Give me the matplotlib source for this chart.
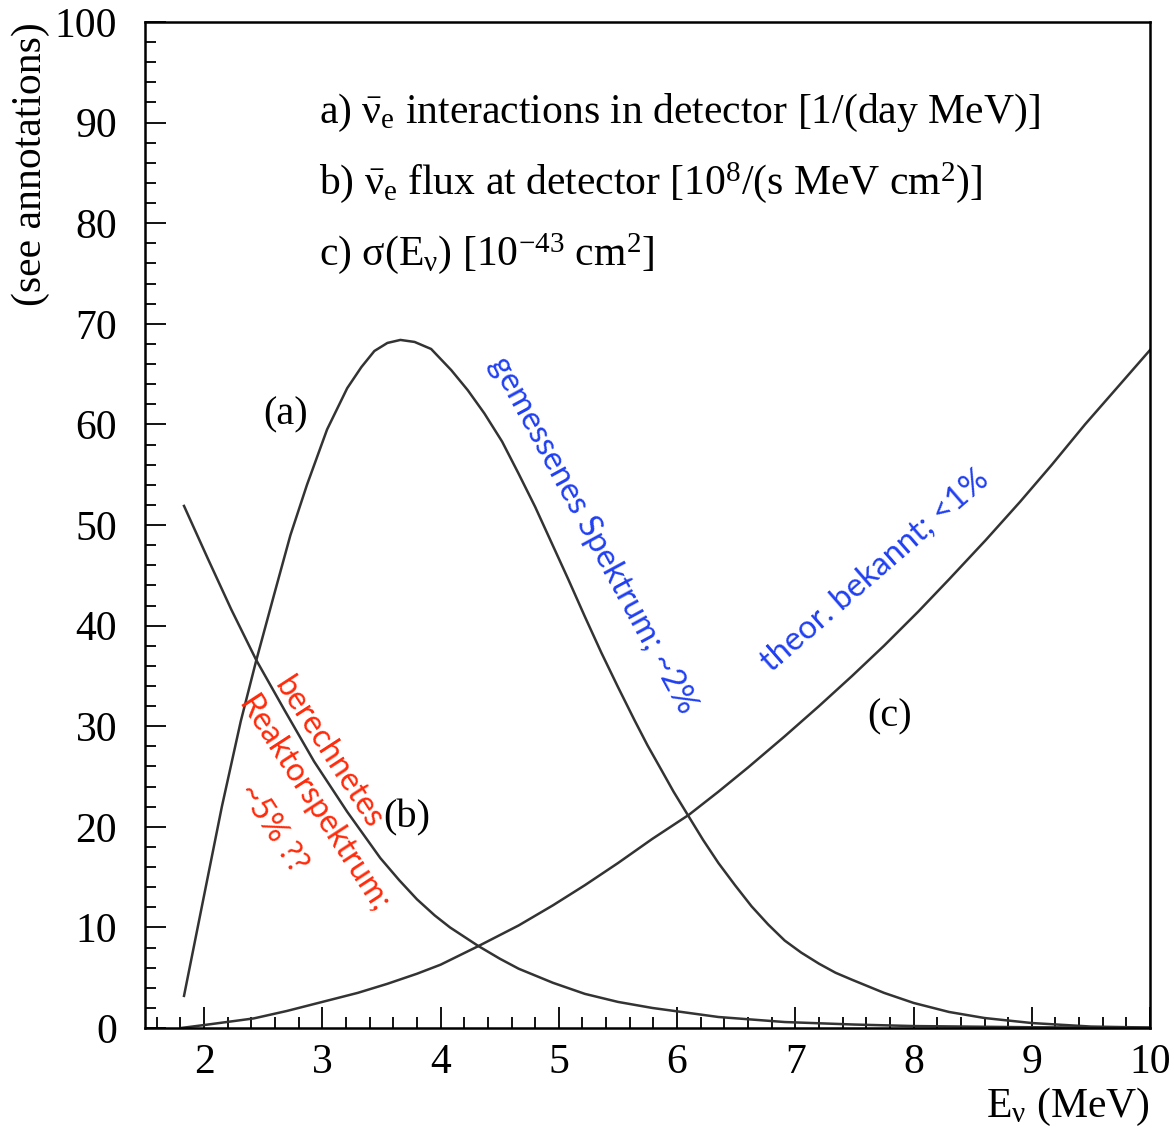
import matplotlib
matplotlib.use('Agg')
import matplotlib.pyplot as plt
from matplotlib.ticker import MultipleLocator

plt.rcParams['font.family'] = ['Liberation Serif', 'DejaVu Serif']
plt.rcParams['mathtext.fontset'] = 'custom'
plt.rcParams['mathtext.rm'] = 'Liberation Serif'
plt.rcParams['mathtext.it'] = 'Liberation Serif:italic'

# (a) interactions in detector
energy_a = [1.83, 2.0, 2.15, 2.31, 2.44, 2.59, 2.73, 2.87, 3.04, 3.21, 3.33, 3.44, 3.55,
            3.66, 3.78, 3.92, 4.09, 4.23, 4.37, 4.52, 4.66, 4.80, 4.94, 5.08, 5.22,
            5.36, 5.50, 5.64, 5.75, 5.87, 5.97, 6.10, 6.22, 6.35, 6.49, 6.63, 6.77,
            6.91, 7.05, 7.20, 7.34, 7.48, 7.75, 8.0, 8.3, 8.6, 9.0, 9.5, 10.0]
rate_a = [3.2, 13.2, 22.0, 30.5, 36.5, 43.0, 49.0, 54.0, 59.5, 63.6, 65.7, 67.3, 68.1,
          68.4, 68.2, 67.5, 65.4, 63.4, 61.1, 58.3, 55.1, 51.8, 48.2, 44.6, 40.9,
          37.3, 33.9, 30.6, 28.1, 25.6, 23.5, 21.0, 18.7, 16.4, 14.2, 12.1, 10.3,
          8.7, 7.5, 6.4, 5.5, 4.8, 3.5, 2.5, 1.6, 1.0, 0.5, 0.15, 0.05]

# (b) flux at detector
energy_b = [1.83, 2.03, 2.23, 2.44, 2.68, 2.93, 3.21, 3.49, 3.65, 3.80, 3.95, 4.08,
            4.32, 4.5, 4.66, 4.95, 5.22, 5.5, 5.79, 6.35, 6.91, 7.5, 8.0, 9.0, 10.0]
flux_b = [51.9, 46.7, 41.6, 36.6, 31.6, 26.5, 21.5, 16.9, 14.7, 12.8, 11.2, 10.0,
          8.15, 6.9, 5.9, 4.5, 3.4, 2.6, 2.0, 1.1, 0.6, 0.35, 0.2, 0.08, 0.03]

# (c) cross section
energy_c = [1.8, 2.0, 2.42, 2.7, 3.0, 3.3, 3.55, 3.8, 4.0, 4.32, 4.66, 4.95, 5.22,
            5.5, 5.79, 6.10, 6.35, 6.6, 6.91, 7.2, 7.48, 7.75, 8.04, 8.3, 8.61,
            8.9, 9.17, 9.45, 9.74, 10.0]
sigma_c = [0.0, 0.3, 0.96, 1.7, 2.6, 3.5, 4.4, 5.4, 6.3, 8.15, 10.2, 12.2, 14.2,
           16.4, 18.8, 21.2, 23.5, 25.9, 29.0, 32.0, 35.0, 38.0, 41.4, 44.6, 48.5,
           52.3, 56.0, 60.0, 63.9, 67.4]

legend_lines = [
    r'a) $\bar{\mathrm{\nu}}_\mathrm{e}$ interactions in detector [1/(day MeV)]',
    r'b) $\bar{\mathrm{\nu}}_\mathrm{e}$ flux at detector [10$^8$/(s MeV cm$^2$)]',
    r'c) $\mathrm{\sigma}$(E$_\mathrm{\nu}$) [10$^{-43}$ cm$^2$]',
]

fig = plt.figure(figsize=(11.74, 11.29), dpi=100)
ax = fig.add_axes([0.1235, 0.0894, 0.8561, 0.8911])

line_kw = dict(color='#333333', lw=1.8)
ax.plot(energy_a, rate_a, **line_kw)
ax.plot(energy_b, flux_b, **line_kw)
ax.plot(energy_c, sigma_c, **line_kw)

ax.set_xlim(1.5, 10)
ax.set_ylim(0, 100)
ax.xaxis.set_minor_locator(MultipleLocator(0.2))
ax.yaxis.set_major_locator(MultipleLocator(10))
ax.yaxis.set_minor_locator(MultipleLocator(2))
ax.set_xticks(range(2, 11))
ax.tick_params(which='both', direction='in', top=False, right=False, width=1.3, labelsize=30)
ax.tick_params(which='major', length=15)
ax.tick_params(which='minor', length=8)
ax.tick_params(axis='y', pad=20)
ax.tick_params(axis='x', pad=11)
for s in ax.spines.values():
    s.set_linewidth(1.8)

ax.set_ylabel('(see annotations)', fontsize=30, loc='top')
ax.yaxis.set_label_coords(-0.095, 1.0)
ax.set_xlabel(r'E$_\mathrm{\nu}$ (MeV)', fontsize=30, loc='right')
ax.xaxis.set_label_coords(1.0, -0.058)
ax.xaxis.label.set_va('top')

# legend as plain text block
for i, txt in enumerate(legend_lines):
    ax.text(2.97, 91 - 7 * i, txt, fontsize=30, va='center', ha='left')

ax.text(2.69, 60.9, '(a)', fontsize=29, ha='center', va='center')
ax.text(3.71, 20.9, '(b)', fontsize=29, ha='center', va='center')
ax.text(7.80, 30.9, '(c)', fontsize=29, ha='center', va='center')

# handwritten-style notes
blue = '#1f3ff2'
red = '#ff2a0a'
note_font = ['Lato', 'DejaVu Sans']
ax.text(5.29, 49.0, 'gemessenes Spektrum; ~2%', color=blue, fontsize=23.5,
        family=note_font, rotation=-61.5, rotation_mode='anchor', ha='center', va='center')
ax.text(7.67, 45.5, 'theor. bekannt; <1%', color=blue, fontsize=23.5,
        family=note_font, rotation=41, rotation_mode='anchor', ha='center', va='center')
ax.text(3.05, 27.4, 'berechnetes', color=red, fontsize=23,
        family=note_font, rotation=-57, rotation_mode='anchor', ha='center', va='center')
ax.text(2.92, 22.2, 'Reaktorspektrum;', color=red, fontsize=23,
        family=note_font, rotation=-57, rotation_mode='anchor', ha='center', va='center')
ax.text(2.58, 19.9, '~5% ??', color=red, fontsize=23,
        family=note_font, rotation=-57, rotation_mode='anchor', ha='center', va='center')

fig.savefig('out.png', dpi=100)
